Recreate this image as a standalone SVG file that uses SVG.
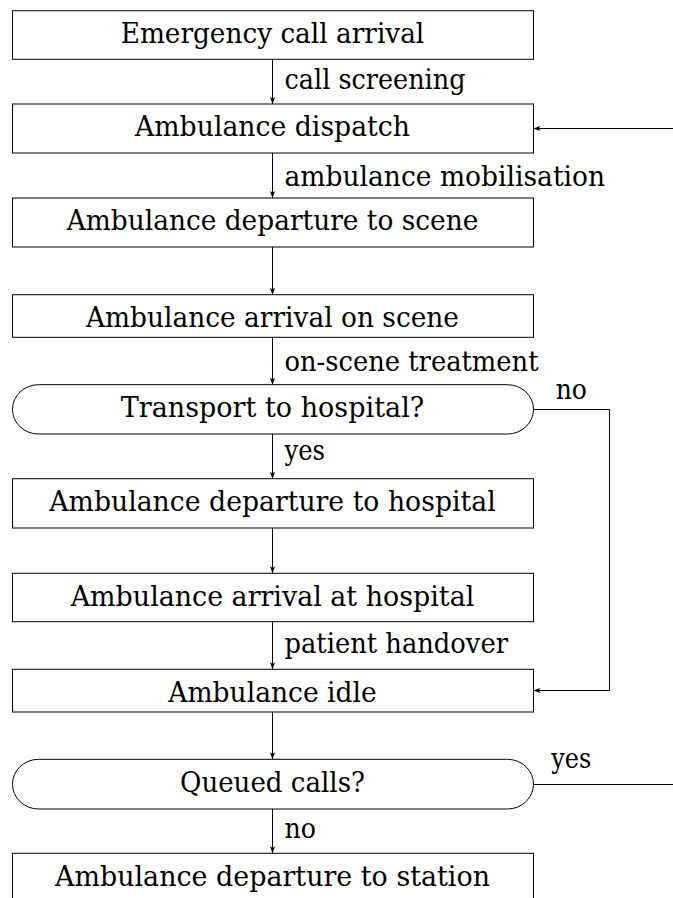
<svg xmlns="http://www.w3.org/2000/svg" width="673" height="898" viewBox="0 0 673 898">
<defs>
<style>
.n{fill:#fff;stroke:#000;stroke-width:1}
.t{font-family:"DejaVu Serif",serif;font-size:28px;fill:#000}
.m{text-anchor:middle}
.c{fill:none;stroke:#000;stroke-width:1}
</style>
<marker id="ah" viewBox="-7 -3 7 6" refX="0" refY="0" markerWidth="7" markerHeight="6" markerUnits="userSpaceOnUse" orient="auto"><path d="M0,0 L-7,-2.6 L-5.2,0 L-7,2.6 z" fill="#000"/></marker>
</defs>
<rect width="673" height="898" fill="#fff"/>
<g id="connectors">
<path class="c" d="M272.5,59.3 V104" marker-end="url(#ah)"/>
<path class="c" d="M272.5,153 V198" marker-end="url(#ah)"/>
<path class="c" d="M272.5,247 V294.7" marker-end="url(#ah)"/>
<path class="c" d="M272.5,337.3 V384.7" marker-end="url(#ah)"/>
<path class="c" d="M272.5,434 V478.7" marker-end="url(#ah)"/>
<path class="c" d="M272.5,528 V573.3" marker-end="url(#ah)"/>
<path class="c" d="M272.5,621.7 V669.3" marker-end="url(#ah)"/>
<path class="c" d="M272.5,712 V759.3" marker-end="url(#ah)"/>
<path class="c" d="M272.5,809 V853.3" marker-end="url(#ah)"/>
<path class="c" d="M673,128.5 H533.5" marker-end="url(#ah)"/>
<path class="c" d="M533.5,409.5 H609.5 V690.5 H533.5" marker-end="url(#ah)"/>
<path class="c" d="M533.5,784.5 H673"/>
<text class="t" x="284.5" y="89.4" textLength="181" lengthAdjust="spacingAndGlyphs">call screening</text>
<text class="t" x="284.5" y="186.3" textLength="320.6" lengthAdjust="spacingAndGlyphs">ambulance mobilisation</text>
<text class="t" x="284.5" y="370.5" textLength="254" lengthAdjust="spacingAndGlyphs">on-scene treatment</text>
<text class="t" x="284.5" y="460" textLength="40.5" lengthAdjust="spacingAndGlyphs">yes</text>
<text class="t" x="284.5" y="653.2" textLength="223.5" lengthAdjust="spacingAndGlyphs">patient handover</text>
<text class="t" x="284.5" y="837.9" textLength="31.5" lengthAdjust="spacingAndGlyphs">no</text>
<text class="t" x="555.7" y="399.3" textLength="31.3" lengthAdjust="spacingAndGlyphs">no</text>
<text class="t" x="551.3" y="767.7" textLength="40" lengthAdjust="spacingAndGlyphs">yes</text>
</g>
<g id="n1"><rect class="n" x="12.5" y="10.7" width="521" height="48.6"/><text class="t m" x="272.5" y="43.3" textLength="303.6" lengthAdjust="spacingAndGlyphs">Emergency call arrival</text></g>
<g id="n2"><rect class="n" x="12.5" y="104" width="521" height="49"/><text class="t m" x="272.5" y="136.3" textLength="275" lengthAdjust="spacingAndGlyphs">Ambulance dispatch</text></g>
<g id="n3"><rect class="n" x="12.5" y="198" width="521" height="49"/><text class="t m" x="272.5" y="230.3" textLength="411.6" lengthAdjust="spacingAndGlyphs">Ambulance departure to scene</text></g>
<g id="n4"><rect class="n" x="12.5" y="294.7" width="521" height="42.6"/><text class="t m" x="272.5" y="327" textLength="373" lengthAdjust="spacingAndGlyphs">Ambulance arrival on scene</text></g>
<g id="d1"><rect class="n" x="12.5" y="384.7" width="521" height="49.3" rx="26" ry="24.6"/><text class="t m" x="272.5" y="417" textLength="303.6" lengthAdjust="spacingAndGlyphs">Transport to hospital?</text></g>
<g id="n5"><rect class="n" x="12.5" y="478.7" width="521" height="49.3"/><text class="t m" x="272.5" y="511" textLength="446.4" lengthAdjust="spacingAndGlyphs">Ambulance departure to hospital</text></g>
<g id="n6"><rect class="n" x="12.5" y="573.3" width="521" height="48.4"/><text class="t m" x="272.5" y="605.6" textLength="403.6" lengthAdjust="spacingAndGlyphs">Ambulance arrival at hospital</text></g>
<g id="n7"><rect class="n" x="12.5" y="669.3" width="521" height="42.7"/><text class="t m" x="272.5" y="701.6" textLength="208.4" lengthAdjust="spacingAndGlyphs">Ambulance idle</text></g>
<g id="d2"><rect class="n" x="12.5" y="759.3" width="521" height="49.7" rx="26" ry="24.8"/><text class="t m" x="272.5" y="791.6" textLength="185" lengthAdjust="spacingAndGlyphs">Queued calls?</text></g>
<g id="n8"><rect class="n" x="12.5" y="853.3" width="521" height="49"/><text class="t m" x="272.5" y="885.6" textLength="435" lengthAdjust="spacingAndGlyphs">Ambulance departure to station</text></g>
</svg>
